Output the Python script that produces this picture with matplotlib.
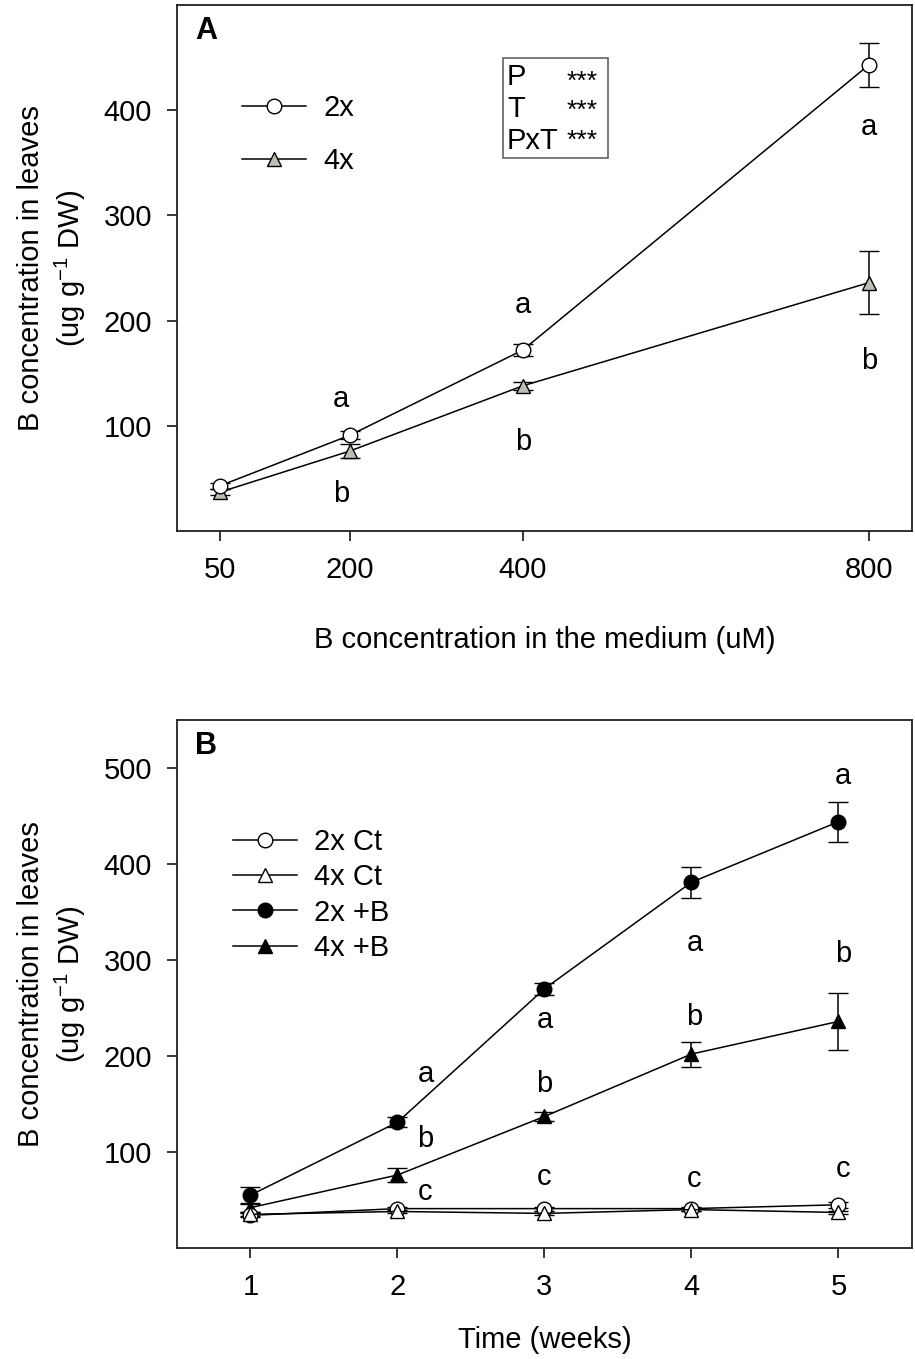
import numpy as np
import matplotlib.pyplot as plt
from matplotlib.patches import Rectangle

plt.rcParams['font.family'] = ['Liberation Sans', 'DejaVu Sans']
plt.rcParams['font.size'] = 21
plt.rcParams['mathtext.fontset'] = 'custom'
plt.rcParams['mathtext.rm'] = 'Liberation Sans'

# panel A data
conc = [50, 200, 400, 800]
a_2x = [43, 91, 172, 443]
a_2x_err = [3, 4, 6, 21]
a_4x = [37, 76, 138, 236]
a_4x_err = [3, 7, 4, 30]
a_letters = [(190, 125, 'a'), (190, 35, 'b'), (400, 215, 'a'), (400, 85, 'b'),
             (800, 384, 'a'), (800, 162, 'b')]

# panel B data
weeks = [1, 2, 3, 4, 5]
b_2x_ct = [34, 41, 41, 41, 45]
b_2x_ct_err = [2, 2, 2, 2, 3]
b_4x_ct = [35, 38, 36, 40, 37]
b_4x_ct_err = [2, 2, 2, 2, 2]
b_2x_b = [55, 131, 270, 381, 444]
b_2x_b_err = [9, 5, 6, 16, 21]
b_4x_b = [42, 76, 137, 202, 236]
b_4x_b_err = [5, 7, 5, 13, 30]
b_letters = [(2.19, 181, 'a'), (2.19, 113, 'b'), (2.19, 58, 'c'),
             (3.0, 238, 'a'), (3.0, 171, 'b'), (3.0, 74, 'c'),
             (4.02, 318, 'a'), (4.02, 241, 'b'), (4.02, 72, 'c'),
             (5.03, 492, 'a'), (5.03, 306, 'b'), (5.03, 82, 'c')]

ylab = 'B concentration in leaves\n(ug g$^{-1}$ DW)'

fig = plt.figure(figsize=(9.15, 13.59), dpi=100)
axA = fig.add_axes([0.1934, 0.6093, 0.8033, 0.387])
axB = fig.add_axes([0.1934, 0.0817, 0.8033, 0.3885])


def style(ax):
    for s in ax.spines.values():
        s.set_linewidth(1.3)
        s.set_color('#222222')
    ax.tick_params(direction='out', length=7, width=1.1, top=False, right=False, pad=11)


eb = dict(color='black', lw=1.1, capsize=7, elinewidth=1.1, capthick=1.1,
          markersize=10.5, markeredgecolor='black', markeredgewidth=1.0)

# panel A
c1 = axA.errorbar(conc, a_2x, yerr=a_2x_err, marker='o', markerfacecolor='white', zorder=3, **eb)
c2 = axA.errorbar(conc, a_4x, yerr=a_4x_err, marker='^', markerfacecolor='#bdbdb5', zorder=2, **eb)
axA.set_xlim(0, 850)
axA.set_ylim(0, 500)
axA.set_xticks(conc)
axA.set_yticks([100, 200, 300, 400])
axA.set_xlabel('B concentration in the medium (uM)', labelpad=30)
axA.set_ylabel(ylab, labelpad=11, linespacing=1.3)
for x, y, t in a_letters:
    axA.text(x, y, t, ha='center', va='center', fontsize=21)
axA.text(0.04, 0.95, 'A', transform=axA.transAxes, fontsize=22, fontweight='bold', va='center', ha='center')
axA.legend([c1[0], c2[0]], ['2x', '4x'], loc='upper left', bbox_to_anchor=(0.053, 0.88),
           frameon=False, handlelength=2.2, labelspacing=0.85, fontsize=21, handletextpad=0.6)
axA.add_patch(Rectangle((0.4435, 0.709), 0.1425, 0.19, transform=axA.transAxes,
                        fill=False, ec='#555555', lw=1.1))
axA.text(0.449, 0.802, 'P\nT\nPxT', transform=axA.transAxes, va='center', ha='left',
         fontsize=21, linespacing=1.17)
axA.text(0.572, 0.798, '***\n***\n***', transform=axA.transAxes, va='center', ha='right',
         fontsize=19, linespacing=1.3)
style(axA)

# panel B
d1 = axB.errorbar(weeks, b_2x_ct, yerr=b_2x_ct_err, marker='o', markerfacecolor='white', zorder=3, **eb)
d2 = axB.errorbar(weeks, b_4x_ct, yerr=b_4x_ct_err, marker='^', markerfacecolor='white', zorder=3, **eb)
d3 = axB.errorbar(weeks, b_2x_b, yerr=b_2x_b_err, marker='o', markerfacecolor='black', zorder=2, **eb)
d4 = axB.errorbar(weeks, b_4x_b, yerr=b_4x_b_err, marker='^', markerfacecolor='black', zorder=2, **eb)
axB.set_xlim(0.5, 5.5)
axB.set_ylim(0, 550)
axB.set_xticks(weeks)
axB.set_yticks([100, 200, 300, 400, 500])
axB.set_xlabel('Time (weeks)', labelpad=18)
axB.set_ylabel(ylab, labelpad=11, linespacing=1.3)
for x, y, t in b_letters:
    axB.text(x, y, t, ha='center', va='center', fontsize=21)
axB.text(0.04, 0.95, 'B', transform=axB.transAxes, fontsize=22, fontweight='bold', va='center', ha='center')
axB.legend([d1[0], d2[0], d3[0], d4[0]], ['2x Ct', '4x Ct', '2x +B', '4x +B'],
           loc='upper left', bbox_to_anchor=(0.04, 0.845), frameon=False, handlelength=2.2,
           labelspacing=0.25, fontsize=21, handletextpad=0.6)
style(axB)

fig.savefig('out.png', dpi=100)
